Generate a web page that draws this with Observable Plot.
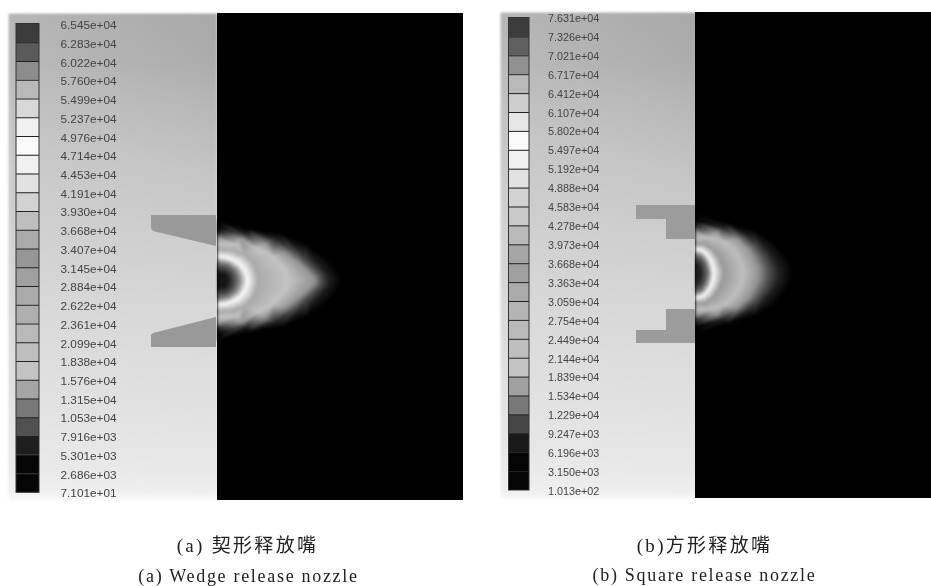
<!DOCTYPE html>
<html><head><meta charset="utf-8">
<script src="https://cdn.jsdelivr.net/npm/d3@7"></script>
<script src="https://cdn.jsdelivr.net/npm/@observablehq/plot@0.6"></script>
<style>
html,body{margin:0;padding:0;background:#fff}
svg{display:block;filter:blur(0.35px)}
svg image{filter:blur(1.1px)}
g[font-size="18"] text{letter-spacing:1.7px}
g[font-size="19"] text{letter-spacing:2.3px}
</style></head><body><div id="c"></div>
<script>
const labelsA=["6.545e+04","6.283e+04","6.022e+04","5.760e+04","5.499e+04","5.237e+04","4.976e+04","4.714e+04","4.453e+04","4.191e+04","3.930e+04","3.668e+04","3.407e+04","3.145e+04","2.884e+04","2.622e+04","2.361e+04","2.099e+04","1.838e+04","1.576e+04","1.315e+04","1.053e+04","7.916e+03","5.301e+03","2.686e+03","7.101e+01"];
const labelsB=["7.631e+04","7.326e+04","7.021e+04","6.717e+04","6.412e+04","6.107e+04","5.802e+04","5.497e+04","5.192e+04","4.888e+04","4.583e+04","4.278e+04","3.973e+04","3.668e+04","3.363e+04","3.059e+04","2.754e+04","2.449e+04","2.144e+04","1.839e+04","1.534e+04","1.229e+04","9.247e+03","6.196e+03","3.150e+03","1.013e+02"];
const bandGrayA=[60,90,140,185,215,240,250,240,225,210,190,170,150,160,170,175,185,190,195,165,120,80,30,5,5];
const bandGrayB=[60,95,145,185,205,230,250,240,225,210,200,185,165,160,170,180,185,190,195,160,120,70,25,5,5];
// plume contours: gray level, then [distance from wall, distance from axis] along the curve
const contoursA=[
 [20,[[0,0],[0,7],[7,6],[10,0]]],
 [60,[[0,12],[8,11],[13,7],[15,0]]],
 [120,[[0,18],[10,16],[17,11],[20,5],[21,0]]],
 [250,[[0,24],[8,23],[16,20],[22,16],[27,10],[29,5],[30,0]]],
 [170,[[0,31],[15,30],[28,25],[35,18],[38,12],[39,8],[40,4],[40,0]]],
 [195,[[0,37],[20,36],[40,32],[55,24],[63,16],[68,10],[71,5],[72,0]]],
 [150,[[0,43],[24,42],[48,37],[68,27],[80,18],[88,11],[94,5],[97,0]]],
 [80,[[0,46],[26,45],[53,40],[74,30],[87,20],[96,12],[102,6],[104,0]]],
 [30,[[0,48],[28,47],[58,42],[81,32],[95,22],[104,13],[110,6],[112,0]]],
 [0,[[0,53],[32,52],[65,47],[90,36],[106,25],[116,15],[122,7],[125,0],[0,60],[130,0],[130,60]]]];
const contoursB=[
 [30,[[0,0],[0,8],[3,6],[5,0]]],
 [60,[[0,14],[4,12],[7,7],[8,0]]],
 [120,[[0,19],[6,17],[10,11],[12,5],[13,0]]],
 [250,[[0,24],[6,23],[11,19],[15,13],[17,7],[18,0]]],
 [155,[[0,30],[10,29],[18,23],[23,16],[25,11],[27,7],[28,3],[28,0]]],
 [190,[[0,36],[14,36],[28,32],[38,24],[43,16],[46,10],[47,5],[48,0]]],
 [150,[[0,42],[22,41],[42,34],[52,25],[57,17],[60,10],[62,5],[62,0]]],
 [80,[[0,45],[26,43],[48,36],[60,27],[67,18],[71,11],[73,5],[73,0]]],
 [30,[[0,48],[28,46],[53,38],[68,28],[76,19],[81,11],[84,5],[84,0]]],
 [0,[[0,53],[32,51],[60,43],[78,32],[88,21],[94,12],[97,6],[97,0],[0,60],[110,0],[110,60]]]];
// background panel gray levels, top to bottom, left and right side
const panelY=[13,60,120,180,240,300,360,420,470,490,500];
const panelLeft=[182,186,196,204,210,216,222,228,234,240,250];
const panelRight=[168,172,186,198,206,214,220,226,232,238,250];
const captionsZh=[{x:247,y:545,t:"(a) 契形释放嘴"},{x:704,y:545,t:"(b)方形释放嘴"}];
const captionsEn=[{x:248,y:576,t:"(a) Wedge release nozzle"},{x:704,y:575,t:"(b) Square release nozzle"}];
const wedgeX=[151,153,216];
const wedgeTopEdge=[228,231,246];
const wedgeBotEdge=[335,333,317];
const stepRects=[
 {x1:636,x2:695,y1:205,y2:219},{x1:666,x2:695,y1:219,y2:239},
 {x1:666,x2:695,y1:309,y2:330},{x1:636,x2:695,y1:330,y2:343}];

const wedgeTopRows=wedgeX.map((x,i)=>({x,y1:215,y2:wedgeTopEdge[i]}));
const wedgeBotRows=wedgeX.map((x,i)=>({x,y1:wedgeBotEdge[i],y2:347}));
function legendRows(gray,top,step,x1,x2){return gray.map((v,i)=>({x1,x2,y1:top+i*step,y2:top+(i+1)*step,v}));}
function labelRows(labels,top,step,x){return labels.map((t,i)=>({t,x,y:top+i*step}));}
function tickRows(n,top,step,x1,x2){return d3.range(1,n).map(i=>({x1,x2,y:top+i*step}));}
function plumeRows(cs,x0,yc){const o=[];cs.forEach(([v,pts])=>pts.forEach(([dx,dy])=>{
  o.push({x:x0+dx,y:yc-dy,v}); if(dy) o.push({x:x0+dx,y:yc+dy,v});}));return o;}
function panelRows(xl,xr){const o=[];panelY.forEach((y,i)=>{o.push({x:xl,y,v:panelLeft[i]});o.push({x:xr,y,v:panelRight[i]});});return o;}

const ras=(data,x1,x2,y1,y2)=>Plot.raster(data,{x:"x",y:"y",fill:"v",x1,x2,y1,y2,interpolate:"barycentric",pixelSize:1});
const chart=Plot.plot({width:931,height:586,margin:0,
 x:{domain:[0,931],range:[0,931],axis:null},y:{domain:[0,586],range:[0,586],axis:null},
 color:{type:"linear",domain:[0,255],range:["#000","#fff"]},
 marks:[
  ras(panelRows(8,217),8,217,13,500),
  ras(panelRows(500,696),500,696,12,498),
  Plot.rect(legendRows(bandGrayA,23.5,18.75,16,39),{x1:"x1",x2:"x2",y1:"y1",y2:"y2",fill:"v"}),
  Plot.rect(legendRows(bandGrayB,17.5,18.9,508.5,529),{x1:"x1",x2:"x2",y1:"y1",y2:"y2",fill:"v"}),
  Plot.ruleY(tickRows(25,23.5,18.75,16,39),{x1:"x1",x2:"x2",y:"y",stroke:"#222",strokeWidth:1}),
  Plot.ruleY(tickRows(25,17.5,18.9,508.5,529),{x1:"x1",x2:"x2",y:"y",stroke:"#222",strokeWidth:1}),
  Plot.rect([{x1:16,x2:39,y1:23.5,y2:492.3},{x1:508.5,x2:529,y1:17.5,y2:490}],{x1:"x1",x2:"x2",y1:"y1",y2:"y2",stroke:"#333",strokeWidth:1,fill:"none"}),
  Plot.text(labelRows(labelsA,25,18.72,60),{x:"x",y:"y",text:"t",textAnchor:"start",fontSize:11.8,fontFamily:"Liberation Sans",fill:"#444"}),
  Plot.text(labelRows(labelsB,18,18.92,547.5),{x:"x",y:"y",text:"t",textAnchor:"start",fontSize:10.8,fontFamily:"Liberation Sans",fill:"#444"}),
  Plot.rect([{x1:217,x2:463,y1:13,y2:500},{x1:695,x2:931,y1:12,y2:498}],{x1:"x1",x2:"x2",y1:"y1",y2:"y2",fill:"#000"}),
  ras(plumeRows(contoursA,217,280),217,347,220,340),
  ras(plumeRows(contoursB,695,273),695,805,213,333),
  Plot.areaY(wedgeTopRows,{x:"x",y1:"y1",y2:"y2",fill:"#999"}),
  Plot.areaY(wedgeBotRows,{x:"x",y1:"y1",y2:"y2",fill:"#999"}),
  Plot.rect(stepRects,{x1:"x1",x2:"x2",y1:"y1",y2:"y2",fill:"#9c9c9c"}),
  Plot.text(captionsZh,{x:"x",y:"y",text:"t",fontSize:19,fontFamily:"Liberation Serif, Noto Sans CJK SC",fill:"#222"}),
  Plot.text(captionsEn,{x:"x",y:"y",text:"t",fontSize:18,fontFamily:"Liberation Serif, Noto Sans CJK SC",fill:"#222"})
 ]});
document.getElementById("c").appendChild(chart);
</script></body></html>
